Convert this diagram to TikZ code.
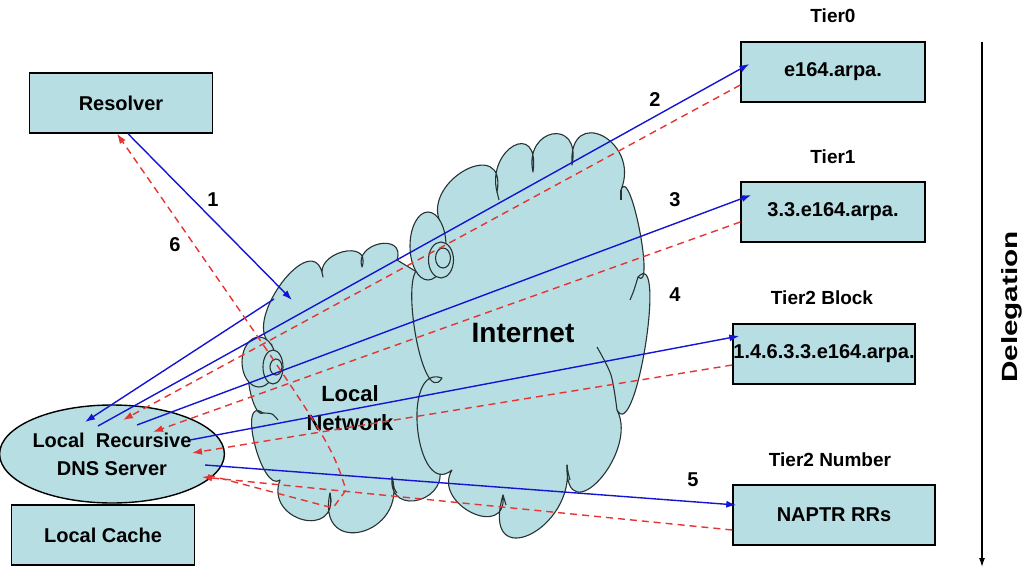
\documentclass[tikz,border=0pt]{standalone}
\usepackage{fontspec}
\setmainfont{Liberation Sans}
\usetikzlibrary{shapes.geometric,arrows.meta,calc}

\definecolor{boxfill}{RGB}{183,222,227}
\definecolor{qblue}{RGB}{20,20,210}
\definecolor{rred}{RGB}{228,52,52}
\definecolor{cloudline}{RGB}{40,50,50}

\tikzset{
  box/.style={draw, line width=1.4pt, fill=boxfill, minimum width=183pt, minimum height=60pt,
    inner sep=0pt, font=\fontsize{20}{24}\selectfont\bfseries},
  tier/.style={font=\fontsize{19}{22}\selectfont\bfseries},
  num/.style={font=\fontsize{20}{22}\selectfont\bfseries},
  query/.style={qblue, line width=1.4pt, ->},
  answer/.style={rred, line width=1.4pt, dash pattern=on 7pt off 5pt, ->},
  net/.style={draw=cloudline, line width=1.1pt, fill=boxfill, line join=round},
  puff/.style={draw=cloudline, line width=1.1pt},
  % one round puff of a cloud, bulging through the given point
  lobe/.style={to path={.. controls ($1.333*(#1)+0.583*(\tikztostart)-0.917*(\tikztotarget)$)
    and ($1.333*(#1)+0.583*(\tikztotarget)-0.917*(\tikztostart)$) .. (\tikztotarget)}},
}

\begin{document}
\begin{tikzpicture}[x=1pt,y=-1pt,>={Latex[length=10pt,width=7pt]}]
    \useasboundingbox (0,0) rectangle (1026,575);

    % local network cloud
    \filldraw[net] (272,345) to[lobe={282,283}] (323,277) to[lobe={343,252}] (362,267)
      to[lobe={380,244}] (397,260) -- (430,280) -- (440,400) -- (437,463)
      to[lobe={420,500}] (392,477) to[lobe={362,532}] (330,493) to[lobe={303,520}] (280,480)
      to[lobe={255,445}] (263,413) to[lobe={250,390}] (255,372) -- cycle;
    \draw[puff] plot[smooth] coordinates {(392,477) (394,488) (397,493)};
    \draw[puff] plot[smooth] coordinates {(330,493) (331,502)};
    \draw[puff] plot[smooth] coordinates {(263,413) (272,414) (278,420)};
    \filldraw[net] (259,362) ellipse (17pt and 25pt);

    % internet cloud
    \filldraw[net] (440,222) to[lobe={466,170}] (497,192) to[lobe={514,146}] (533,172)
      to[lobe={553,134}] (572,165) to[lobe={603,136}] (621,190) to[lobe={640,230}] (638,277)
      to[lobe={646,345}] (617,410) to[lobe={600,480}] (567,465) to[lobe={530,535}] (503,495)
      to[lobe={472,513}] (452,470) to[lobe={418,430}] (442,378) to[lobe={415,330}] (425,270)
      -- (440,222) -- cycle;
    % inner strokes of the puffs
    \draw[puff] plot[smooth] coordinates {(597,347) (611,375) (617,410)};
    \draw[puff] plot[smooth] coordinates {(638,277) (634,290) (630,300)};
    \draw[puff] plot[smooth] coordinates {(621,190) (621,200)};
    \draw[puff] plot[smooth] coordinates {(497,192) (499,200)};
    \draw[puff] plot[smooth] coordinates {(567,465) (568,472) (570,480)};
    \draw[puff] plot[smooth] coordinates {(503,495) (506,505)};
    \filldraw[net] (428,246) ellipse (18pt and 34pt);

    % router icons
    \filldraw[net] (273,367) ellipse (10pt and 17pt);
    \draw[puff] (276,367) ellipse (6pt and 8pt);
    \filldraw[net] (441,260) ellipse (12.5pt and 18pt);
    \draw[puff] (443,258) ellipse (7.5pt and 10pt);

    \node[font=\fontsize{22}{29}\selectfont\bfseries, align=center] (lanlabel) at (350,408) {Local\\Network};
    \node[font=\fontsize{28}{30}\selectfont\bfseries] (inetlabel) at (523,333) {Internet};

    % the boxes
    \node[box] (resolver) at (121,103) {Resolver};
    \node[box] (cache) at (103,535) {Local Cache};
    \node[ellipse, draw, line width=1.4pt, fill=boxfill, minimum width=201pt, minimum height=98pt,
      inner sep=0pt, align=center, font=\fontsize{20}{28}\selectfont\bfseries] (dns) at (112,454)
      {Local\ \ Recursive\\DNS Server};
    \node[box, minimum width=184pt] (tier0) at (833,72) {e164.arpa.};
    \node[box, minimum width=184pt] (tier1) at (833,212) {3.3.e164.arpa.};
    \node[box, minimum width=182pt] (tier2b) at (824,354) {1.4.6.3.3.e164.arpa.};
    \node[box, minimum width=202pt] (tier2n) at (834,515) {NAPTR RRs};

    % tier names
    \node[tier] (t0name) at (833,16) {Tier0};
    \node[tier] (t1name) at (833,157) {Tier1};
    \node[tier] (t2bname) at (822,298) {Tier2 Block};
    \node[tier] (t2nname) at (830,460) {Tier2 Number};

    % step numbers
    \node[num] (n1) at (213,200) {1};
    \node[num] (n2) at (655,100) {2};
    \node[num] (n3) at (675,200) {3};
    \node[num] (n4) at (675,295) {4};
    \node[num] (n5) at (693,480) {5};
    \node[num] (n6) at (175,245) {6};

    % where the local network is entered
    \coordinate (lanin) at (292,300);
    \coordinate (lanout) at (274,299);
    \coordinate (bend1) at (333,508);
    \coordinate (bend2) at (346,490);

    % queries
    \draw[query] ([xshift=7pt]resolver.south) -- (lanin);
    \draw[query] (lanout) -- ([shift={(-27,-32)}]dns.center);
    \draw[query] ([shift={(-14,-28)}]dns.center) -- ([shift={(9,-8)}]tier0.west);
    \draw[query] ([shift={(25,-29)}]dns.center) -- ([shift={(11,-17)}]tier1.west);
    \draw[query] ([shift={(78,-14)}]dns.center) -- ([shift={(7,-18)}]tier2b.west);
    \draw[query] ([shift={(93,11)}]dns.center) -- ([shift={(4,-10)}]tier2n.west);

    % answers
    \draw[answer] ([shift={(0,13)}]tier0.west) -- ([shift={(11,-34)}]dns.center);
    \draw[answer] ([shift={(0,10)}]tier1.west) -- ([shift={(41,-22)}]dns.center);
    \draw[answer] ([shift={(0,11)}]tier2b.west) -- ([shift={(80,-1)}]dns.center);
    \draw[answer] ([shift={(0,15)}]tier2n.west) -- ([shift={(90,23)}]dns.center);
    \draw[answer] ([shift={(96,21)}]dns.center) -- (bend1) -- (bend2)
      .. controls (330,440) .. ([xshift=-4pt]resolver.south);

    % delegation axis
    \coordinate (dtop) at (982,42);
    \coordinate (dbot) at (982,567);
    \draw[->, line width=1.2pt, >={Latex[length=9pt,width=6pt]}] (dtop) -- (dbot);
    \node[rotate=90, font=\fontsize{22}{24}\selectfont\bfseries] (deleg) at (1012,307)
      {\scalebox{1.35}[1]{Delegation}};

\end{tikzpicture}
\end{document}
